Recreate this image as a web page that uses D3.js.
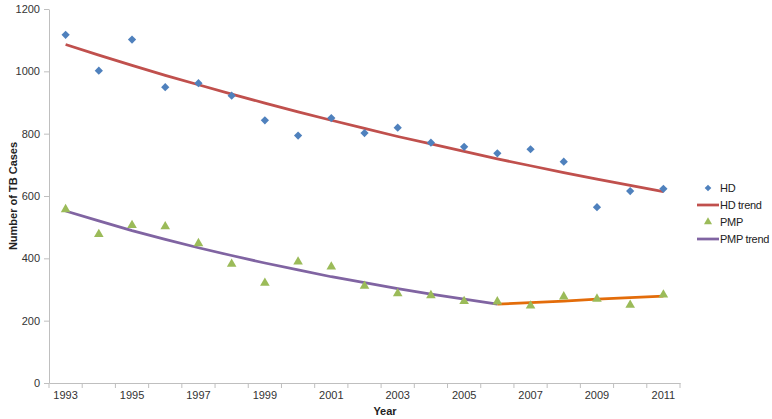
<html><head>
<style>
  body, html { margin: 0; padding: 0; background: #fff; }
  svg { font-family: 'Liberation Sans', Arial, sans-serif; }
  .axis path, .axis line { stroke: #bfbfbf; }
  .axis text { fill: #333; font-size: 11px; }
  .title { font-weight: bold; font-size: 11px; fill: #222; }
  .legend text { font-size: 11px; fill: #222; letter-spacing: -0.3px; }
</style>
<script src="https://d3js.org/d3.v7.min.js"></script>
</head>
<body>
<svg id="chart" width="772" height="419"></svg>
<script>
const years = d3.range(1993, 2012);
const hd = [1117, 1002, 1102, 949, 962, 922, 843, 794, 850, 802, 819, 771, 758, 737, 750, 710, 564, 616, 623];
const hdTrend = [1086, 1052, 1019, 987, 957, 927, 898, 870, 843, 817, 791, 767, 743, 719, 697, 675, 654, 634, 614];
const pmp = [557, 477, 506, 502, 448, 382, 321, 389, 373, 311, 287, 281, 262, 261, 248, 277, 270, 250, 283];
const pmpTrendYears = d3.range(1993, 2007);
const pmpTrend = [552, 520, 489, 461, 434, 409, 385, 363, 341, 322, 303, 285, 269, 253];
const lateTrendYears = d3.range(2006, 2012);
const lateTrend = [253, 258, 263, 269, 274, 279];
const yTicks = [0, 200, 400, 600, 800, 1000, 1200];
const xLabels = [1993, 1995, 1997, 1999, 2001, 2003, 2005, 2007, 2009, 2011];

const svg = d3.select("#chart");
const plotLeft = 49, plotRight = 680, plotTop = 9, plotBottom = 383;

const x = d3.scaleBand().domain(years).range([plotLeft, plotRight]);
const y = d3.scaleLinear().domain([0, 1200]).range([plotBottom, plotTop]);
const cx = d => x(d) + x.bandwidth() / 2;

// y axis
svg.append("g").attr("class", "axis")
  .attr("transform", `translate(${plotLeft},0)`)
  .call(d3.axisLeft(y).tickValues(yTicks).tickFormat(d3.format("d"))
    .tickSize(5).tickPadding(4).tickSizeOuter(0));

// x axis: labels centred on categories, ticks between categories
const xAxis = svg.append("g").attr("class", "axis")
  .attr("transform", `translate(0,${plotBottom})`)
  .call(d3.axisBottom(x).tickValues(xLabels).tickSize(0).tickPadding(8).tickSizeOuter(0));
xAxis.selectAll(".boundary")
  .data(years.map(d => x(d)).concat([plotRight]))
  .enter().append("line")
  .attr("class", "boundary")
  .attr("x1", d => d).attr("x2", d => d)
  .attr("y1", 0).attr("y2", 5);

// titles
svg.append("text").attr("class", "title")
  .attr("transform", `translate(17,196) rotate(-90)`)
  .attr("text-anchor", "middle").text("Number of TB Cases");
svg.append("text").attr("class", "title")
  .attr("x", 385).attr("y", 415).attr("text-anchor", "middle").text("Year");

// trend lines
const line = d3.line().x(d => cx(d[0])).y(d => y(d[1]));
svg.append("path").datum(d3.zip(years, hdTrend))
  .attr("d", line).attr("fill", "none").attr("stroke", "#c0504d").attr("stroke-width", 2.75);
svg.append("path").datum(d3.zip(pmpTrendYears, pmpTrend))
  .attr("d", line).attr("fill", "none").attr("stroke", "#8064a2").attr("stroke-width", 2.75);
svg.append("path").datum(d3.zip(lateTrendYears, lateTrend))
  .attr("d", line).attr("fill", "none").attr("stroke", "#e36c0a").attr("stroke-width", 2.75);

// markers
const diamond = d3.symbol().type(d3.symbolSquare).size(34);
const triangle = d3.symbol().type(d3.symbolTriangle).size(40);
svg.append("g").selectAll("path")
  .data(d3.zip(years, hd)).enter().append("path")
  .attr("d", diamond)
  .attr("transform", d => `translate(${cx(d[0])},${y(d[1])}) rotate(45)`)
  .attr("fill", "#4f81bd");
svg.append("g").selectAll("path")
  .data(d3.zip(years, pmp)).enter().append("path")
  .attr("d", triangle)
  .attr("transform", d => `translate(${cx(d[0])},${y(d[1])})`)
  .attr("fill", "#9bbb59");

// legend
const legendItems = [
  { name: "HD", kind: "diamond", color: "#4f81bd" },
  { name: "HD trend", kind: "line", color: "#c0504d" },
  { name: "PMP", kind: "triangle", color: "#9bbb59" },
  { name: "PMP trend", kind: "line", color: "#8064a2" }
];
const legend = svg.append("g").attr("class", "legend");
legendItems.forEach((it, i) => {
  const ly = 188 + i * 17;
  if (it.kind === "line") {
    legend.append("line").attr("x1", 697).attr("x2", 719).attr("y1", ly).attr("y2", ly)
      .attr("stroke", it.color).attr("stroke-width", 2.75);
  } else if (it.kind === "diamond") {
    legend.append("path").attr("d", d3.symbol().type(d3.symbolSquare).size(22))
      .attr("transform", `translate(708,${ly}) rotate(45)`).attr("fill", it.color);
  } else {
    legend.append("path").attr("d", d3.symbol().type(d3.symbolTriangle).size(28))
      .attr("transform", `translate(708,${ly})`).attr("fill", it.color);
  }
  legend.append("text").attr("x", 720).attr("y", ly).attr("dy", "0.35em").text(it.name);
});
</script>
</body></html>
